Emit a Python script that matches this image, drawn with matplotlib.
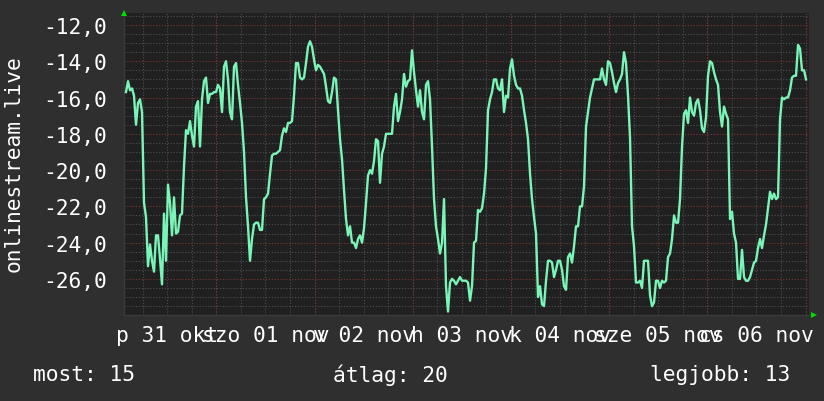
import numpy as np
import matplotlib
matplotlib.use("Agg")
import matplotlib.pyplot as plt
from matplotlib.ticker import FixedLocator, MultipleLocator, FuncFormatter

# ---- data (temperature-like readings, time in hours from 31 Oct 00:00) ----
T_START = 1.93      # hours
T_STEP = 0.4888     # hours between samples

part1 = [-15.7,-15.1,-15.6,-15.5,-15.9,-17.5,-16.3,-16.1,-16.8,-21.8,
         -22.6,-25.3,-24.1,-25.0,-25.6,-23.6,-23.6,-24.9,-26.3,-22.4,
         -25.0,-20.8,-21.8,-23.6,-21.5,-23.5,-23.4,-22.5,-22.4,-19.8,
         -17.8,-18.0,-17.3,-18.1,-18.7,-16.5,-16.2,-18.7,-16.1,-15.1,
         -14.9,-16.3,-15.8,-15.8,-15.7,-15.7,-15.3,-15.5,-16.8,-14.3,
         -14.0,-15.0,-16.8,-17.2,-14.3]
part2 = [-14.1,-15.3,-16.3,-17.4,-19.0,-21.5,-23.1,-25.0,-23.8,-23.0,
         -22.9,-22.9,-23.3,-23.3,-21.6,-21.5,-21.3,-20.2,-19.2,-19.1,
         -19.1,-19.0,-18.9,-18.1,-17.7,-17.9,-17.4,-17.4,-17.3,-15.9,
         -14.1,-14.1,-14.9,-15.0,-14.9,-14.1,-13.2,-12.9,-13.2,-13.9,
         -14.5,-14.2,-14.3,-14.5,-14.7,-15.4,-16.2,-16.3,-15.7,-14.9,
         -15.0,-16.7,-18.3,-19.4,-21.1,-22.7,-23.6,-23.1]
part3 = [-24.0,-24.0,-24.3,-23.8,-23.6,-24.0,-23.2,-21.8,-20.3,-20.0,
         -20.2,-19.5,-18.3,-18.4,-20.7,-19.1,-18.7,-18.0,-18.0,-18.0,
         -18.0,-16.5,-15.8,-17.3,-16.8,-16.1,-14.7,-15.4,-15.1,-15.0,
         -13.4,-14.6,-15.6,-16.5,-15.6,-16.8,-17.2,-15.3,-15.1,-16.1,
         -18.7,-21.6,-23.1,-23.8,-24.6,-24.0,-21.6,-26.4,-27.8,-26.2,
         -26.0,-26.1,-26.3,-26.1,-25.9,-26.1,-26.1,-26.1]
part4 = [-26.2,-27.2,-26.4,-24.0,-23.9,-22.2,-22.3,-22.1,-21.3,-19.9,
         -16.7,-16.1,-15.7,-15.0,-15.0,-15.5,-15.6,-15.0,-16.8,-15.9,
         -16.0,-14.4,-13.9,-14.8,-15.3,-15.5,-15.5,-15.9,-16.7,-17.4,
         -18.3,-20.2,-21.6,-22.6,-23.5,-27.0,-26.4,-27.4,-27.5,-26.1,
         -25.0,-25.0,-25.1,-25.9,-25.5,-25.0,-25.0,-25.5,-26.4,-26.6,
         -24.8,-24.6,-25.1,-24.2,-23.1,-23.1,-22.0,-22.0]
part5 = [-20.9,-17.6,-16.8,-16.0,-15.5,-15.0,-15.0,-15.0,-15.0,-14.4,
         -15.0,-15.3,-14.0,-14.1,-14.6,-15.2,-15.7,-15.2,-15.0,-14.7,
         -13.5,-14.1,-15.9,-18.2,-23.1,-24.2,-26.2,-26.2,-26.1,-26.5,
         -25.0,-25.0,-25.0,-26.9,-27.5,-27.3,-26.1,-26.1,-26.5,-26.1,
         -26.2,-26.1,-24.8,-24.6,-23.8,-22.5,-22.9,-22.9,-21.6,-18.7,
         -16.9,-16.7,-17.4,-16.0,-16.8,-17.0,-16.3,-16.1]
part6 = [-16.7,-17.7,-17.9,-17.1,-14.8,-14.0,-14.1,-14.6,-15.0,-15.3,
         -16.8,-17.6,-16.5,-16.9,-17.2,-22.7,-22.3,-23.5,-24.0,-26.0,
         -26.0,-24.4,-25.9,-26.1,-26.1,-25.9,-25.5,-25.1,-25.0,-24.3,
         -23.8,-24.3,-23.6,-23.0,-22.1,-21.2,-21.6,-21.3,-21.6,-21.5,
         -17.2,-16.0,-16.1,-16.0,-16.0,-15.6,-14.9,-14.8,-14.8,-13.1,
         -13.3,-14.5,-14.5,-15.0]

day_labels = ["p 31 okt", "szo 01 nov", "v 02 nov", "h 03 nov",
              "k 04 nov", "sze 05 nov", "cs 06 nov"]
y_label = "onlinestream.live"
legend_texts = ["most: 15", "átlag: 20", "legjobb: 13"]

values = np.array(part1 + part2 + part3 + part4 + part5 + part6)
times = T_START + T_STEP * np.arange(len(values))

# ---- style ----
FONT = "DejaVu Sans Mono"
FS = 15.3
FIG_BG = "#2f2f2f"
AX_BG = "#202020"
LINE_C = "#7af5b8"
MINOR_C = "#4e4e4e"
MAJOR_C = "#7a3535"
DOT = (0, (1, 1.6))

W, H = 824, 402
fig = plt.figure(figsize=(W / 100, H / 100), dpi=100, facecolor=FIG_BG)
L, R, T, B = 124, 809, 14, 316
ax = fig.add_axes([L / W, 1 - B / H, (R - L) / W, (B - T) / H])
ax.set_facecolor(AX_BG)

ax.plot(times, values, color=LINE_C, lw=1.7, zorder=5)

ax.set_xlim(1.44, 168.85)
ax.set_ylim(-27.99, -11.34)

# y ticks
ax.yaxis.set_major_locator(MultipleLocator(2))
ax.yaxis.set_minor_locator(MultipleLocator(0.5))
ax.yaxis.set_major_formatter(FuncFormatter(lambda v, p: f"{v:.1f}".replace(".", ",")))

# x ticks: labels at noon of each day
noons = [12 + 24 * i for i in range(len(day_labels))]
ax.xaxis.set_major_locator(FixedLocator(noons))
ax.set_xticklabels(day_labels)
ax.xaxis.set_minor_locator(MultipleLocator(6))

ax.tick_params(axis="both", which="both", length=0)
ax.tick_params(axis="y", pad=12, labelsize=FS, labelcolor="white")
ax.tick_params(axis="x", pad=7, labelsize=FS, labelcolor="white")
for lab in ax.get_xticklabels() + ax.get_yticklabels():
    lab.set_fontfamily(FONT)

ax.set_axisbelow(True)
ax.grid(which="both", axis="x", color=MINOR_C, lw=0.8, linestyle=DOT)
ax.grid(which="minor", axis="y", color=MINOR_C, lw=0.8, linestyle=DOT)
ax.grid(which="major", axis="y", color=MAJOR_C, lw=0.8, linestyle=DOT)
for d in range(0, 8):
    ax.axvline(24 * d, color=MAJOR_C, lw=0.8, linestyle=DOT, zorder=1.5)

for s in ["top", "right"]:
    ax.spines[s].set_visible(False)
ax.spines["left"].set_color("#3a3a3a")
ax.spines["bottom"].set_color("#3a3a3a")
ax.spines["left"].set_linewidth(1)
ax.spines["bottom"].set_linewidth(1)

# axis arrows
ax.plot([0], [1.0], marker="^", color="#00dd00", ms=5, transform=ax.transAxes,
        clip_on=False, zorder=6, markeredgewidth=0)
ax.plot([1.007], [0.0], marker=">", color="#00dd00", ms=5, transform=ax.transAxes,
        clip_on=False, zorder=6, markeredgewidth=0)

# y label
fig.text(14 / W, 1 - 164 / H, y_label, rotation=90, ha="center", va="center",
         color="white", fontsize=FS, fontfamily=FONT)

# bottom legend line
legend_x = [33, 333, 650]
for x, txt in zip(legend_x, legend_texts):
    fig.text(x / W, 1 - 375 / H, txt, ha="left", va="center", color="white",
             fontsize=FS, fontfamily=FONT)

fig.savefig("out.png", dpi=100, facecolor=FIG_BG)
